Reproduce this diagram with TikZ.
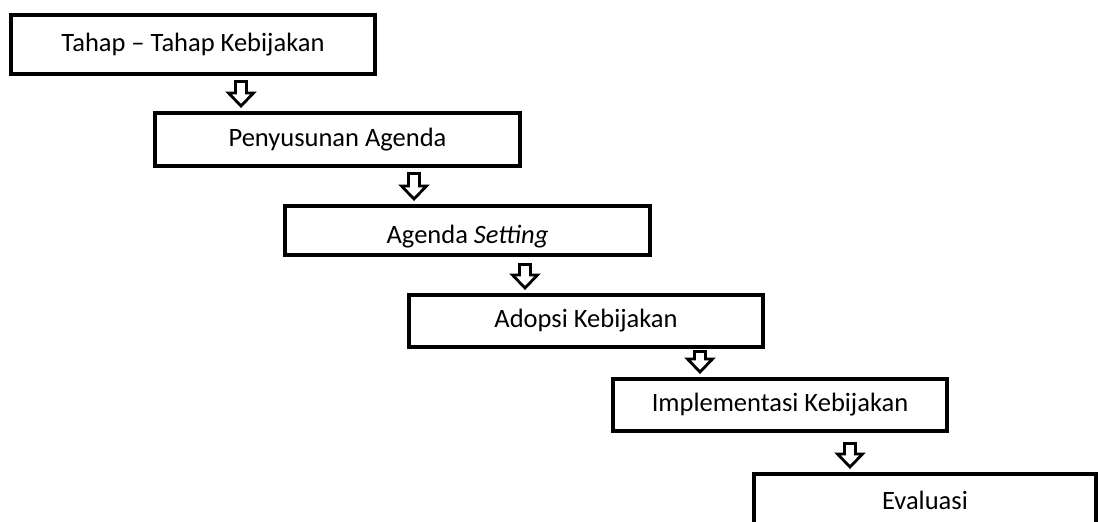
\documentclass[tikz,border=0pt]{standalone}
\usepackage{fontspec}
\setmainfont{Carlito}
\usepackage{tikz}
\usetikzlibrary{calc,positioning}

\tikzset{
  kotak/.style={draw,line width=4pt,rectangle,inner sep=2pt,fill=white,
    font=\fontsize{26.5}{31}\selectfont},
  panah/.style={draw,line width=2.8pt,fill=white,line join=miter,
    to path={let \p1=(\tikztostart), \p2=(\tikztotarget) in
      (\x1-5.5pt,\y1-1.4pt) -- (\x1+5.5pt,\y1-1.4pt) -- (\x1+5.5pt,\y2+18pt)
      -- (\x1+12.5pt,\y2+18pt) -- (\x1,\y2+5pt) -- (\x1-12.5pt,\y2+18pt)
      -- (\x1-5.5pt,\y2+18pt) -- cycle}}
}

\begin{document}
\begin{tikzpicture}[x=1pt,y=-1pt]
      \useasboundingbox (0,0) rectangle (1098,522);

      \coordinate (A) at (193,44.5);
      \coordinate (B) at (337.5,139.5);
      \coordinate (C) at (467.5,230.5);
      \coordinate (D) at (586,321);
      \coordinate (E) at (780,405);
      \coordinate (F) at (925,500);

      \node[kotak,minimum width=364pt,minimum height=59pt] (aa) at (A) {Tahap -- Tahap Kebijakan};
      \node[kotak,minimum width=365pt,minimum height=53pt] (bb) at (B) {Penyusunan Agenda};
      \node[kotak,minimum width=365pt,minimum height=49pt] (cc) at (C) {\raisebox{-6pt}[\height][\depth]{Agenda \textit{Setting}}};
      \node[kotak,minimum width=354pt,minimum height=52pt] (dd) at (D) {Adopsi Kebijakan};
      \node[kotak,minimum width=334pt,minimum height=52pt] (ee) at (E) {Implementasi Kebijakan};
      \node[kotak,minimum width=342pt,minimum height=52pt] (ff) at (F) {Evaluasi};

      % pangkal panah
      \coordinate (p1) at (241,80);
      \coordinate (p2) at (414,172);
      \coordinate (p3) at (525,263);
      \coordinate (p4) at (700,350);
      \coordinate (p5) at (850,442);

      \draw[panah] (p1) to (bb.north -| p1);
      \draw[panah] (p2) to (cc.north -| p2);
      \draw[panah] (p3) to (dd.north -| p3);
      \draw[panah] (p4) to (ee.north -| p4);
      \draw[panah] (p5) to (ff.north -| p5);

\end{tikzpicture}
\end{document}
